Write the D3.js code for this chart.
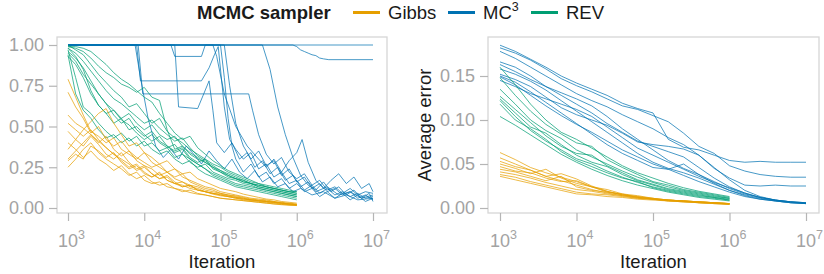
<!DOCTYPE html>
<html>
<head>
<meta charset="utf-8">
<script src="https://cdn.jsdelivr.net/npm/d3@7"></script>
<style>
  body { margin: 0; background: #fff; }
  text { font-family: "Liberation Sans", Arial, sans-serif; }
</style>
</head>
<body>
<div class="chart"></div>
<script>
// log10 of the iteration count
var logIterFine = [3.0, 3.1, 3.2, 3.3, 3.4, 3.5, 3.6, 3.7, 3.8, 3.9, 4.0, 4.1, 4.2, 4.3, 4.4, 4.5,
  4.6, 4.7, 4.8, 4.9, 5.0, 5.1, 5.2, 5.3, 5.4, 5.5, 5.6, 5.7, 5.8, 5.9, 6.0];
var logIterShort = [3.0, 3.2, 3.4, 3.6, 3.8, 4.0, 4.2, 4.4, 4.6, 4.8, 5.0, 5.2, 5.4, 5.6, 5.8, 6.0];
var logIterLong = [3.0, 3.2, 3.4, 3.6, 3.8, 4.0, 4.2, 4.4, 4.6, 4.8, 5.0, 5.2, 5.4, 5.6, 5.8, 6.0,
  6.2, 6.4, 6.6, 6.8, 7.0];

var samplers = ["Gibbs", "MC3", "REV"];
var xTicks = [1e3, 1e4, 1e5, 1e6, 1e7];
var leftTicks = [0, 0.25, 0.5, 0.75, 1];
var rightTicks = [0, 0.05, 0.1, 0.15];

// left panel: one value per logIterFine step
var gibbsLeft = [
  [.79,.68,.57,.47,.44,.40,.43,.36,.33,.30,.34,.28,.25,.22,.24,.19,.17,.15,.13,.12,.10,.09,.08,.07,.06,.055,.05,.04,.035,.03,.025],
  [.71,.62,.55,.46,.50,.42,.38,.41,.35,.31,.28,.25,.27,.22,.19,.21,.16,.14,.12,.11,.09,.08,.075,.065,.055,.05,.045,.04,.03,.025,.02],
  [.57,.52,.49,.45,.40,.44,.36,.32,.35,.29,.26,.24,.20,.22,.18,.16,.14,.13,.11,.10,.09,.08,.07,.06,.05,.045,.04,.035,.03,.025,.02],
  [.52,.48,.44,.48,.42,.37,.33,.29,.25,.27,.22,.19,.21,.17,.15,.14,.12,.11,.10,.09,.08,.07,.065,.055,.05,.045,.04,.035,.03,.025,.02],
  [.47,.42,.38,.44,.39,.33,.30,.34,.28,.24,.26,.21,.18,.20,.16,.13,.14,.11,.10,.085,.075,.07,.06,.05,.045,.04,.035,.03,.025,.02,.018],
  [.40,.36,.31,.35,.30,.27,.23,.26,.21,.18,.20,.16,.14,.15,.12,.11,.095,.085,.08,.07,.06,.055,.05,.045,.04,.035,.03,.025,.022,.018,.015],
  [.36,.42,.48,.53,.58,.61,.52,.45,.38,.40,.34,.31,.27,.29,.24,.21,.22,.18,.16,.14,.12,.11,.10,.085,.075,.065,.055,.05,.04,.035,.03],
  [.30,.35,.40,.45,.41,.37,.33,.30,.27,.23,.25,.21,.18,.19,.15,.13,.14,.11,.10,.09,.08,.07,.06,.055,.05,.045,.04,.035,.03,.025,.02],
  [.25,.30,.36,.40,.34,.30,.27,.24,.20,.22,.17,.15,.16,.13,.12,.10,.11,.09,.08,.07,.06,.055,.05,.045,.04,.035,.03,.025,.02,.018,.015],
  [.29,.33,.30,.38,.35,.31,.34,.28,.24,.26,.21,.19,.22,.17,.15,.16,.13,.12,.10,.09,.085,.075,.065,.06,.05,.045,.04,.035,.03,.025,.02]
];
var revLeft = [
  [.97,.80,.62,.58,.52,.47,.43,.46,.41,.44,.38,.40,.35,.37,.31,.33,.28,.25,.27,.22,.20,.18,.17,.15,.14,.12,.11,.10,.09,.08,.07],
  [.98,.93,.85,.72,.63,.58,.52,.55,.48,.50,.45,.41,.44,.38,.35,.37,.31,.28,.30,.24,.22,.19,.18,.16,.15,.13,.12,.11,.10,.09,.08],
  [1.0,.97,.94,.88,.82,.77,.72,.68,.62,.64,.58,.52,.55,.47,.43,.40,.36,.33,.30,.27,.25,.22,.20,.18,.16,.15,.13,.12,.11,.10,.09],
  [.99,.98,.96,.92,.87,.83,.80,.76,.74,.71,.74,.68,.66,.48,.36,.38,.33,.30,.28,.25,.22,.20,.18,.17,.15,.14,.13,.12,.11,.10,.10],
  [.95,.90,.82,.76,.70,.64,.60,.55,.58,.52,.48,.51,.45,.42,.44,.38,.34,.31,.28,.25,.23,.21,.19,.17,.15,.14,.13,.12,.11,.10,.09],
  [.93,.88,.80,.70,.63,.58,.60,.54,.51,.46,.42,.45,.40,.37,.39,.33,.30,.27,.24,.21,.19,.17,.15,.14,.13,.12,.11,.10,.09,.08,.07],
  [.99,.99,.98,.96,.92,.88,.83,.79,.76,.72,.68,.65,.58,.52,.46,.42,.44,.37,.33,.29,.26,.23,.21,.19,.17,.15,.14,.13,.12,.11,.10],
  [.96,.92,.86,.78,.70,.64,.57,.52,.55,.48,.44,.47,.41,.38,.34,.36,.30,.27,.24,.20,.18,.16,.14,.13,.12,.11,.10,.09,.08,.07,.06],
  [.98,.95,.90,.84,.78,.72,.67,.64,.60,.56,.52,.54,.49,.45,.41,.43,.37,.32,.29,.26,.23,.20,.18,.16,.15,.13,.12,.11,.10,.09,.08],
  [.94,.70,.60,.55,.48,.43,.45,.40,.43,.38,.41,.36,.33,.35,.30,.27,.29,.24,.21,.19,.17,.15,.13,.12,.11,.10,.09,.08,.07,.06,.05]
];
// MC3 chains jump, so each one keeps its own [log10 iteration, value] pairs
var mc3Left = [
  [[3,1],[7,1]],
  [[3,1],[5.95,1],[6.0,.99],[6.05,.97],[6.1,.96],[6.15,.95],[6.2,.94],[6.25,.935],[6.3,.92],[6.35,.915],[6.42,.91],[7,.91]],
  [[3,1],[3.9,1],[3.95,.78],[4.75,.78],[4.85,.86],[4.92,.94],[4.97,.99],[5.05,.62],[5.12,.42],[5.2,.36],[5.3,.30],[5.4,.34],[5.5,.24],[5.6,.27],[5.7,.19],[5.8,.22],[5.9,.15],[6.0,.17],[6.1,.11],[6.2,.14],[6.3,.09],[6.4,.12],[6.5,.08],[6.6,.10],[6.7,.07],[6.8,.09],[6.9,.06],[7,.07]],
  [[3,1],[3.92,1],[3.98,.70],[5.37,.70],[5.42,.60],[5.5,.45],[5.6,.33],[5.7,.27],[5.8,.31],[5.9,.22],[6.0,.18],[6.1,.21],[6.2,.14],[6.3,.17],[6.4,.11],[6.5,.13],[6.6,.09],[6.7,.12],[6.8,.08],[6.9,.10],[7,.09]],
  [[3,1],[3.88,1],[3.95,.80],[4.05,.55],[4.15,.38],[4.25,.31],[4.35,.36],[4.45,.30],[4.55,.38],[4.65,.33],[4.75,.27],[4.85,.35],[4.95,.29],[5.05,.24],[5.15,.30],[5.25,.22],[5.35,.18],[5.45,.23],[5.55,.16],[5.65,.19],[5.75,.13],[5.85,.15],[5.95,.10],[6.05,.12],[6.2,.08],[6.35,.10],[6.5,.06],[6.65,.08],[6.8,.05],[7,.06]],
  [[3,1],[4.35,1],[4.4,.93],[4.75,.93],[4.8,1],[5.05,1],[5.12,.75],[5.2,.52],[5.3,.38],[5.4,.30],[5.5,.35],[5.6,.26],[5.7,.29],[5.8,.20],[5.9,.24],[6.0,.16],[6.1,.19],[6.2,.12],[6.3,.15],[6.4,.10],[6.5,.12],[6.6,.08],[6.7,.10],[6.8,.06],[6.9,.08],[7,.05]],
  [[3,1],[4.4,1],[4.45,.62],[4.7,.61],[4.78,.70],[4.85,.78],[4.9,.60],[4.95,.40],[5.05,.34],[5.15,.40],[5.25,.30],[5.35,.34],[5.45,.25],[5.55,.29],[5.65,.21],[5.75,.25],[5.85,.17],[5.95,.20],[6.05,.13],[6.15,.16],[6.25,.10],[6.4,.13],[6.55,.08],[6.7,.10],[6.85,.06],[7,.08]],
  [[3,1],[5.0,1],[5.05,.80],[5.1,.55],[5.15,.38],[5.2,.30],[5.3,.22],[5.4,.27],[5.5,.19],[5.6,.22],[5.7,.15],[5.8,.18],[5.9,.12],[6.0,.15],[6.1,.10],[6.2,.12],[6.3,.07],[6.4,.10],[6.5,.06],[6.6,.09],[6.7,.05],[6.8,.08],[6.9,.04],[7,.06]],
  [[3,1],[5.55,1],[5.65,.85],[5.75,.62],[5.85,.45],[5.95,.31],[6.05,.20],[6.15,.14],[6.25,.11],[6.35,.16],[6.45,.10],[6.55,.13],[6.65,.08],[6.75,.11],[6.85,.06],[6.95,.09],[7,.04]],
  [[3,1],[4.9,1],[4.95,.93],[5.05,.70],[5.2,.50],[5.35,.38],[5.5,.30],[5.6,.25],[5.7,.30],[5.8,.22],[5.9,.29],[6.0,.34],[6.07,.42],[6.15,.28],[6.25,.17],[6.35,.12],[6.45,.17],[6.55,.21],[6.65,.15],[6.75,.19],[6.85,.12],[6.95,.15],[7,.10]]
];

// right panel: average error, one value per logIterShort / logIterLong step
var gibbsRight = [
  [.063,.055,.046,.040,.035,.030,.024,.019,.015,.012,.010,.009,.008,.007,.006,.005],
  [.057,.050,.043,.036,.031,.026,.021,.017,.014,.011,.010,.008,.007,.006,.005,.005],
  [.053,.047,.043,.036,.039,.033,.025,.019,.015,.013,.010,.009,.008,.007,.006,.005],
  [.050,.045,.039,.044,.034,.028,.024,.018,.016,.012,.011,.009,.008,.007,.006,.005],
  [.047,.042,.040,.034,.030,.031,.024,.021,.016,.014,.011,.009,.008,.007,.006,.004],
  [.044,.041,.036,.031,.036,.024,.020,.018,.015,.013,.011,.009,.008,.006,.006,.005],
  [.041,.038,.034,.029,.025,.021,.019,.016,.014,.012,.010,.009,.008,.007,.006,.005],
  [.038,.035,.030,.026,.022,.018,.016,.015,.013,.011,.010,.008,.007,.006,.005,.004],
  [.036,.032,.028,.024,.020,.016,.015,.013,.012,.010,.009,.008,.007,.006,.005,.004]
];
var revRight = [
  [.160,.140,.118,.100,.086,.078,.068,.058,.048,.040,.034,.028,.023,.019,.016,.013],
  [.148,.128,.110,.095,.084,.074,.070,.055,.046,.038,.030,.026,.021,.018,.015,.012],
  [.135,.118,.100,.088,.079,.066,.058,.050,.042,.035,.029,.024,.020,.017,.014,.011],
  [.127,.112,.097,.082,.070,.062,.060,.048,.040,.032,.027,.022,.019,.016,.013,.011],
  [.124,.108,.092,.085,.072,.060,.052,.047,.038,.031,.026,.021,.018,.015,.012,.010],
  [.122,.104,.088,.076,.066,.056,.050,.042,.035,.029,.024,.020,.017,.014,.012,.009],
  [.118,.100,.090,.078,.064,.054,.047,.040,.034,.030,.023,.019,.016,.013,.011,.009],
  [.104,.094,.083,.072,.061,.052,.044,.037,.031,.026,.022,.018,.015,.012,.010,.008]
];
var mc3Right = [
  [.185,.178,.169,.160,.150,.142,.135,.128,.119,.113,.108,.078,.069,.066,.060,.054,.052,.053,.052,.052,.052],
  [.182,.176,.168,.158,.147,.139,.132,.124,.116,.112,.105,.098,.085,.070,.062,.048,.042,.038,.036,.035,.035],
  [.178,.170,.160,.150,.140,.130,.122,.115,.106,.098,.090,.080,.072,.060,.045,.034,.026,.025,.026,.025,.025],
  [.166,.160,.150,.138,.128,.118,.108,.096,.086,.076,.070,.064,.058,.046,.034,.024,.017,.012,.009,.007,.006],
  [.163,.155,.146,.138,.131,.124,.116,.104,.090,.078,.066,.054,.045,.038,.030,.022,.016,.012,.009,.007,.005],
  [.158,.152,.144,.134,.122,.110,.098,.086,.074,.062,.052,.045,.040,.034,.027,.020,.015,.011,.008,.006,.005],
  [.152,.146,.138,.126,.114,.106,.100,.094,.085,.075,.072,.070,.067,.060,.046,.032,.020,.013,.009,.007,.006],
  [.150,.143,.132,.120,.108,.096,.084,.072,.062,.054,.046,.044,.050,.038,.028,.020,.014,.010,.008,.006,.005],
  [.149,.140,.128,.116,.105,.095,.086,.076,.066,.058,.050,.044,.037,.030,.024,.018,.013,.010,.008,.006,.005],
  [.145,.138,.130,.124,.118,.112,.104,.092,.080,.068,.060,.052,.044,.036,.029,.023,.017,.012,.009,.007,.006]
];

var colors = { Gibbs: "#E69F00", MC3: "#0072B2", REV: "#009E73" };

var svgWidth = 824;
var svgHeight = 274;

var svg = d3.select(".chart")
  .append("svg")
  .attr("width", svgWidth)
  .attr("height", svgHeight);

// pair up a grid of exponents with a list of values
function onGrid(grid, vals) {
  return vals.map(function(v, i) { return [grid[i], v]; });
}

function drawPanel(opts) {
  var x = d3.scaleLog().domain([1e3, 1e7]).range([opts.x0, opts.x1]);
  var y = d3.scaleLinear().domain(opts.yDomain).range(opts.yRange);

  var g = svg.append("g");

  var line = d3.line()
    .x(function(d) { return x(Math.pow(10, d[0])); })
    .y(function(d) { return y(d[1]); });

  opts.series.forEach(function(s) {
    g.append("g").selectAll("path")
      .data(s.lines)
      .enter().append("path")
      .attr("d", line)
      .attr("fill", "none")
      .attr("stroke", colors[s.name])
      .attr("stroke-opacity", 0.72)
      .attr("stroke-width", 1);
  });

  g.append("rect")
    .attr("x", opts.left).attr("y", 37)
    .attr("width", opts.right - opts.left).attr("height", 176)
    .attr("fill", "none")
    .attr("stroke", "#d6d6d6")
    .attr("stroke-width", 1.3);

  var xAxis = g.append("g")
    .attr("transform", "translate(0,213)")
    .call(d3.axisBottom(x).tickValues(xTicks).tickSize(8).tickPadding(13).tickFormat(function() { return "10"; }));
  xAxis.select(".domain").remove();
  xAxis.selectAll("text")
    .attr("font-size", 18)
    .attr("fill", "#a3a3a3")
    .append("tspan")
    .attr("dy", -8)
    .attr("font-size", 12.5)
    .text(function(d) { return Math.round(Math.log10(d)); });
  xAxis.selectAll("text").attr("dx", 3);

  var yAxis = g.append("g")
    .attr("transform", "translate(" + opts.left + ",0)")
    .call(d3.axisLeft(y).tickValues(opts.yTicks).tickSize(8).tickPadding(5).tickFormat(d3.format(".2f")));
  yAxis.select(".domain").remove();
  yAxis.selectAll("text")
    .attr("font-size", 18)
    .attr("fill", "#a3a3a3");

  g.selectAll(".tick line").attr("stroke", "#b5b5b5").attr("stroke-width", 1.2);

  g.append("text")
    .attr("x", (opts.left + opts.right) / 2)
    .attr("y", 268)
    .attr("text-anchor", "middle")
    .attr("font-size", 18.5)
    .attr("fill", "#1a1a1a")
    .text("Iteration");

  if (opts.yTitle) {
    g.append("text")
      .attr("transform", "translate(431,125) rotate(-90)")
      .attr("text-anchor", "middle")
      .attr("font-size", 18.5)
      .attr("fill", "#1a1a1a")
      .text(opts.yTitle);
  }
}

drawPanel({
  left: 57, right: 387, x0: 68, x1: 373,
  yDomain: [0, 1], yRange: [208, 45], yTicks: leftTicks,
  series: [
    { name: "MC3", lines: mc3Left },
    { name: "REV", lines: revLeft.map(function(v) { return onGrid(logIterFine, v); }) },
    { name: "Gibbs", lines: gibbsLeft.map(function(v) { return onGrid(logIterFine, v); }) }
  ]
});

drawPanel({
  left: 488, right: 819, x0: 500, x1: 806,
  yDomain: [0, 0.15], yRange: [208, 76], yTicks: rightTicks,
  yTitle: "Average error",
  series: [
    { name: "MC3", lines: mc3Right.map(function(v) { return onGrid(logIterLong, v); }) },
    { name: "REV", lines: revRight.map(function(v) { return onGrid(logIterShort, v); }) },
    { name: "Gibbs", lines: gibbsRight.map(function(v) { return onGrid(logIterShort, v); }) }
  ]
});

// legend
var legend = svg.append("g");
legend.append("text")
  .attr("x", 197).attr("y", 19)
  .attr("font-size", 18.5)
  .attr("font-weight", "bold")
  .attr("fill", "#1a1a1a")
  .text("MCMC sampler");

var keyX = [353, 448, 531];
samplers.forEach(function(name, i) {
  legend.append("line")
    .attr("x1", keyX[i]).attr("x2", keyX[i] + 27)
    .attr("y1", 12.5).attr("y2", 12.5)
    .attr("stroke", colors[name])
    .attr("stroke-width", 3);
  var t = legend.append("text")
    .attr("x", keyX[i] + 35).attr("y", 19)
    .attr("font-size", 18.5)
    .attr("fill", "#1a1a1a");
  if (name === "MC3") {
    t.text("MC");
    t.append("tspan").attr("dy", -8).attr("font-size", 12.5).text("3");
  } else {
    t.text(name);
  }
});
</script>
</body>
</html>
